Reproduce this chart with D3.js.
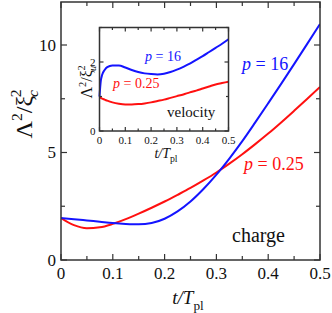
<!DOCTYPE html>
<html>
<head>
<meta charset="utf-8">
<script src="https://cdn.jsdelivr.net/npm/d3@7"></script>
<style>
  body { margin: 0; background: #fff; }
  svg text { font-family: "Liberation Serif", "Times New Roman", serif; }
</style>
</head>
<body>
<div id="chart"></div>
<script>
// time axis samples (t / T_pl)
var tMain = [0, 0.025, 0.05, 0.075, 0.1, 0.125, 0.15, 0.175, 0.2, 0.225, 0.25, 0.275, 0.3, 0.325, 0.35, 0.375, 0.4, 0.425, 0.45, 0.475, 0.5];
// charge: Lambda^2 / xi_c^2
var chargeP16 = [1.95, 1.9, 1.84, 1.78, 1.72, 1.68, 1.66, 1.72, 1.92, 2.26, 2.72, 3.3, 3.97, 4.72, 5.53, 6.4, 7.29, 8.19, 9.11, 10.04, 10.98];
var chargeP025 = [1.95, 1.62, 1.48, 1.52, 1.68, 1.9, 2.155, 2.43, 2.72, 3.03, 3.35, 3.7, 4.07, 4.48, 4.92, 5.39, 5.88, 6.4, 6.94, 7.49, 8.05];

// velocity (inset): Lambda^2 / xi_u^2
var tInset = [0, 0.005, 0.01, 0.02, 0.03, 0.05, 0.075, 0.1, 0.125, 0.15, 0.175, 0.2, 0.225, 0.25, 0.275, 0.3, 0.325, 0.35, 0.375, 0.4, 0.425, 0.45, 0.475, 0.5];
var velP16 = [1.0, 1.45, 1.62, 1.77, 1.85, 1.9, 1.9, 1.84, 1.77, 1.71, 1.67, 1.65, 1.64, 1.66, 1.71, 1.78, 1.86, 1.95, 2.06, 2.17, 2.29, 2.41, 2.53, 2.66];
var velP025 = [0.98, 0.96, 0.94, 0.91, 0.88, 0.83, 0.79, 0.77, 0.77, 0.78, 0.8, 0.83, 0.87, 0.91, 0.96, 1.01, 1.06, 1.12, 1.17, 1.23, 1.29, 1.35, 1.39, 1.43];

var mainXTicks = [0, 0.1, 0.2, 0.3, 0.4, 0.5];
var mainYTicks = [0, 5, 10];
var insetXTicks = [0, 0.1, 0.2, 0.3, 0.4, 0.5];
var insetYTicks = [0, 2];

var blue = "#1414ff", red = "#ff1010", axisColor = "#333";

var svg = d3.select("#chart").append("svg")
    .attr("width", 332)
    .attr("height", 313);

// draws a boxed frame with inward ticks on all four sides
function drawFrame(g, x, y, xMajor, xMinor, yMajor, yMinor, majLen, minLen, fontSize, xLabDy, yLabDx) {
    var x0 = x.range()[0], x1 = x.range()[1];
    var y0 = y.range()[0], y1 = y.range()[1];

    g.append("rect")
        .attr("x", x0).attr("y", y1)
        .attr("width", x1 - x0).attr("height", y0 - y1)
        .attr("fill", "none")
        .attr("stroke", axisColor)
        .attr("stroke-width", 1.5);

    function ticks(vals, len, isX) {
        vals.forEach(function(v) {
            if (isX) {
                var px = x(v);
                g.append("line").attr("x1", px).attr("x2", px).attr("y1", y0).attr("y2", y0 - len)
                    .attr("stroke", axisColor).attr("stroke-width", 1.2);
                g.append("line").attr("x1", px).attr("x2", px).attr("y1", y1).attr("y2", y1 + len)
                    .attr("stroke", axisColor).attr("stroke-width", 1.2);
            } else {
                var py = y(v);
                g.append("line").attr("x1", x0).attr("x2", x0 + len).attr("y1", py).attr("y2", py)
                    .attr("stroke", axisColor).attr("stroke-width", 1.2);
                g.append("line").attr("x1", x1).attr("x2", x1 - len).attr("y1", py).attr("y2", py)
                    .attr("stroke", axisColor).attr("stroke-width", 1.2);
            }
        });
    }
    ticks(xMajor, majLen, true);
    ticks(xMinor, minLen, true);
    ticks(yMajor, majLen, false);
    ticks(yMinor, minLen, false);

    g.selectAll(".xl").data(xMajor).enter().append("text")
        .attr("x", d => x(d))
        .attr("y", y0 + xLabDy)
        .attr("text-anchor", "middle")
        .attr("font-size", fontSize)
        .attr("fill", "#111")
        .text(d => d === 0 ? "0" : d3.format(".1f")(d));

    g.selectAll(".yl").data(yMajor).enter().append("text")
        .attr("x", x0 - yLabDx)
        .attr("y", d => y(d))
        .attr("dy", "0.35em")
        .attr("text-anchor", "end")
        .attr("font-size", fontSize)
        .attr("fill", "#111")
        .text(d => d);
}

function drawLine(g, x, y, ts, vs, color, w) {
    var line = d3.line()
        .x(d => x(d[0]))
        .y(d => y(d[1]))
        .curve(d3.curveMonotoneX);
    g.append("path")
        .datum(ts.map((t, i) => [t, vs[i]]))
        .attr("d", line)
        .attr("fill", "none")
        .attr("stroke", color)
        .attr("stroke-width", w);
}

// ---- main panel ----
var x = d3.scaleLinear().domain([0, 0.5]).range([61, 320]);
var y = d3.scaleLinear().domain([0, 12]).range([260, 2]);
var mainG = svg.append("g");

var clipMain = svg.append("clipPath").attr("id", "clipMain");
clipMain.append("rect").attr("x", 61).attr("y", 2).attr("width", 259).attr("height", 258);
var curvesG = mainG.append("g").attr("clip-path", "url(#clipMain)");
drawLine(curvesG, x, y, tMain, chargeP025, red, 2);
drawLine(curvesG, x, y, tMain, chargeP16, blue, 2);

drawFrame(mainG, x, y, mainXTicks, [0.05, 0.15, 0.25, 0.35, 0.45], mainYTicks, [2.5, 7.5], 6, 4, 17, 19, 5);

// ---- inset ----
var xi = d3.scaleLinear().domain([0, 0.5]).range([99.5, 228.5]);
var yi = d3.scaleLinear().domain([0, 3]).range([131, 27.5]);
var insetG = svg.append("g");
insetG.append("rect").attr("x", 99.5).attr("y", 27.5).attr("width", 129).attr("height", 103.5).attr("fill", "#fff");
drawLine(insetG, xi, yi, tInset, velP025, red, 2);
drawLine(insetG, xi, yi, tInset, velP16, blue, 2);
drawFrame(insetG, xi, yi, insetXTicks, [0.05, 0.15, 0.25, 0.35, 0.45], insetYTicks, [1, 3], 4, 2.5, 11, 13, 4);

// ---- text labels ----
function tLabel(g, cx, by, fs) {
    var t = g.append("text").attr("x", cx).attr("y", by).attr("text-anchor", "middle")
        .attr("font-size", fs).attr("font-style", "italic").attr("fill", "#111");
    t.append("tspan").text("t/T");
    t.append("tspan").attr("font-style", "normal").attr("font-size", fs * 0.7).attr("dy", fs * 0.3).text("pl");
}
tLabel(svg, 188, 304, 19);
tLabel(insetG, 166, 158, 14);

function yLabel(g, cx, cy, fs, sub) {
    var t = g.append("text")
        .attr("transform", `translate(${cx},${cy}) rotate(-90)`)
        .attr("text-anchor", "middle")
        .attr("font-size", fs).attr("fill", "#111");
    t.append("tspan").text("Λ");
    t.append("tspan").attr("font-size", fs * 0.65).attr("dy", -fs * 0.4).text("2");
    t.append("tspan").attr("dy", fs * 0.4).text("/ξ");
    t.append("tspan").attr("font-size", fs * 0.65).attr("font-style", "italic").attr("dx", -fs * 0.05).attr("dy", fs * 0.25).text(sub);
    t.append("tspan").attr("font-size", fs * 0.65).attr("dx", -fs * 0.3).attr("dy", -fs * 0.7).text("2");
}
yLabel(svg, 32, 114, 24, "c");
yLabel(insetG, 92, 82, 16, "u");

function pLabel(g, px, py, fs, color, val) {
    var t = g.append("text").attr("x", px).attr("y", py).attr("font-size", fs).attr("fill", color);
    t.append("tspan").attr("font-style", "italic").text("p");
    t.append("tspan").text(" = " + val);
}
pLabel(svg, 242, 70, 18, blue, "16");
pLabel(svg, 244, 170, 18, red, "0.25");
pLabel(insetG, 145, 61, 14, blue, "16");
pLabel(insetG, 113, 88, 14, red, "0.25");

svg.append("text").attr("x", 232).attr("y", 242).attr("font-size", 20).attr("fill", "#111").text("charge");
insetG.append("text").attr("x", 167).attr("y", 117).attr("font-size", 15).attr("fill", "#111").text("velocity");
</script>
</body>
</html>
